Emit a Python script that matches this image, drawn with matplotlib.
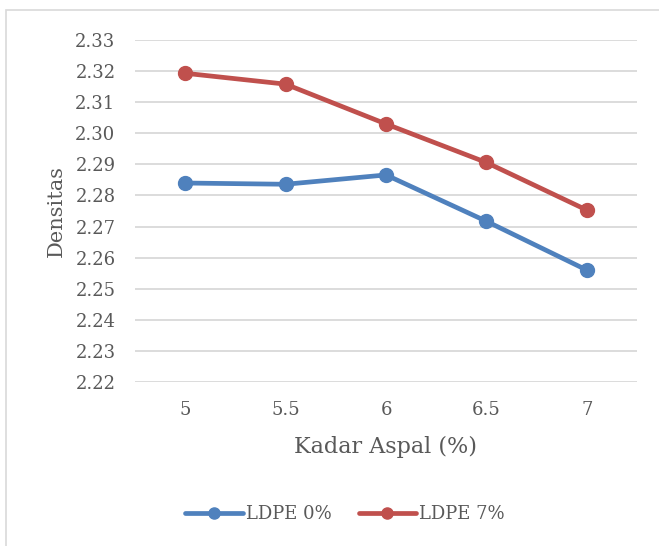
import numpy as np
import matplotlib
matplotlib.use("Agg")
import matplotlib.pyplot as plt
from matplotlib.patches import Rectangle

# data
kadar_aspal = ["5", "5.5", "6", "6.5", "7"]
ldpe_0 = [2.2840, 2.2836, 2.2866, 2.2717, 2.2560]
ldpe_7 = [2.3193, 2.3158, 2.3030, 2.2906, 2.2753]
y_ticks = [2.22, 2.23, 2.24, 2.25, 2.26, 2.27, 2.28, 2.29, 2.30, 2.31, 2.32, 2.33]

plt.rcParams['font.family'] = ['DejaVu Serif']
TXT = '#595959'

fig = plt.figure(figsize=(6.59, 5.46), dpi=100)
ax = fig.add_axes([135/659, 1-382/546, (637-135)/659, (382-40)/546])

# chart border (cropped at right and bottom in the reference)
fig.patches.append(Rectangle((6/659, -0.05), 1.2, 1 - 10/546 + 0.05,
                             transform=fig.transFigure, fill=False,
                             edgecolor='#d9d9d9', linewidth=1.2))

x = np.arange(len(kadar_aspal))
ax.plot(x, ldpe_0, color='#4f81bd', lw=3.4, marker='o', ms=10,
        label='LDPE 0%', solid_capstyle='round', zorder=3)
ax.plot(x, ldpe_7, color='#c0504d', lw=3.4, marker='o', ms=10,
        label='LDPE 7%', solid_capstyle='round', zorder=3)

ax.set_xlim(-0.5, len(kadar_aspal) - 0.5)
ax.set_ylim(2.22, 2.33)
ax.set_yticks(y_ticks)
ax.set_yticklabels([f"{v:.2f}" for v in y_ticks])
ax.set_xticks(x)
ax.set_xticklabels(kadar_aspal)
ax.grid(axis='y', color='#d9d9d9', lw=1.3)
ax.set_axisbelow(True)
for s in ax.spines.values():
    s.set_visible(False)
ax.tick_params(length=0, colors=TXT, labelsize=13)
ax.tick_params(axis='y', pad=14)
ax.tick_params(axis='x', pad=14)

ax.set_xlabel('Kadar Aspal (%)', fontsize=16, color=TXT, labelpad=12)
ax.set_ylabel('Densitas', fontsize=15, color=TXT, labelpad=7)

fig.legend(loc='center', bbox_to_anchor=(345/659, 1-514/546), ncol=2,
           frameon=False, fontsize=13, labelcolor=TXT, handlelength=3.2,
           handletextpad=0.15, columnspacing=1.5, markerscale=0.8)

fig.savefig('out.png', dpi=100)
